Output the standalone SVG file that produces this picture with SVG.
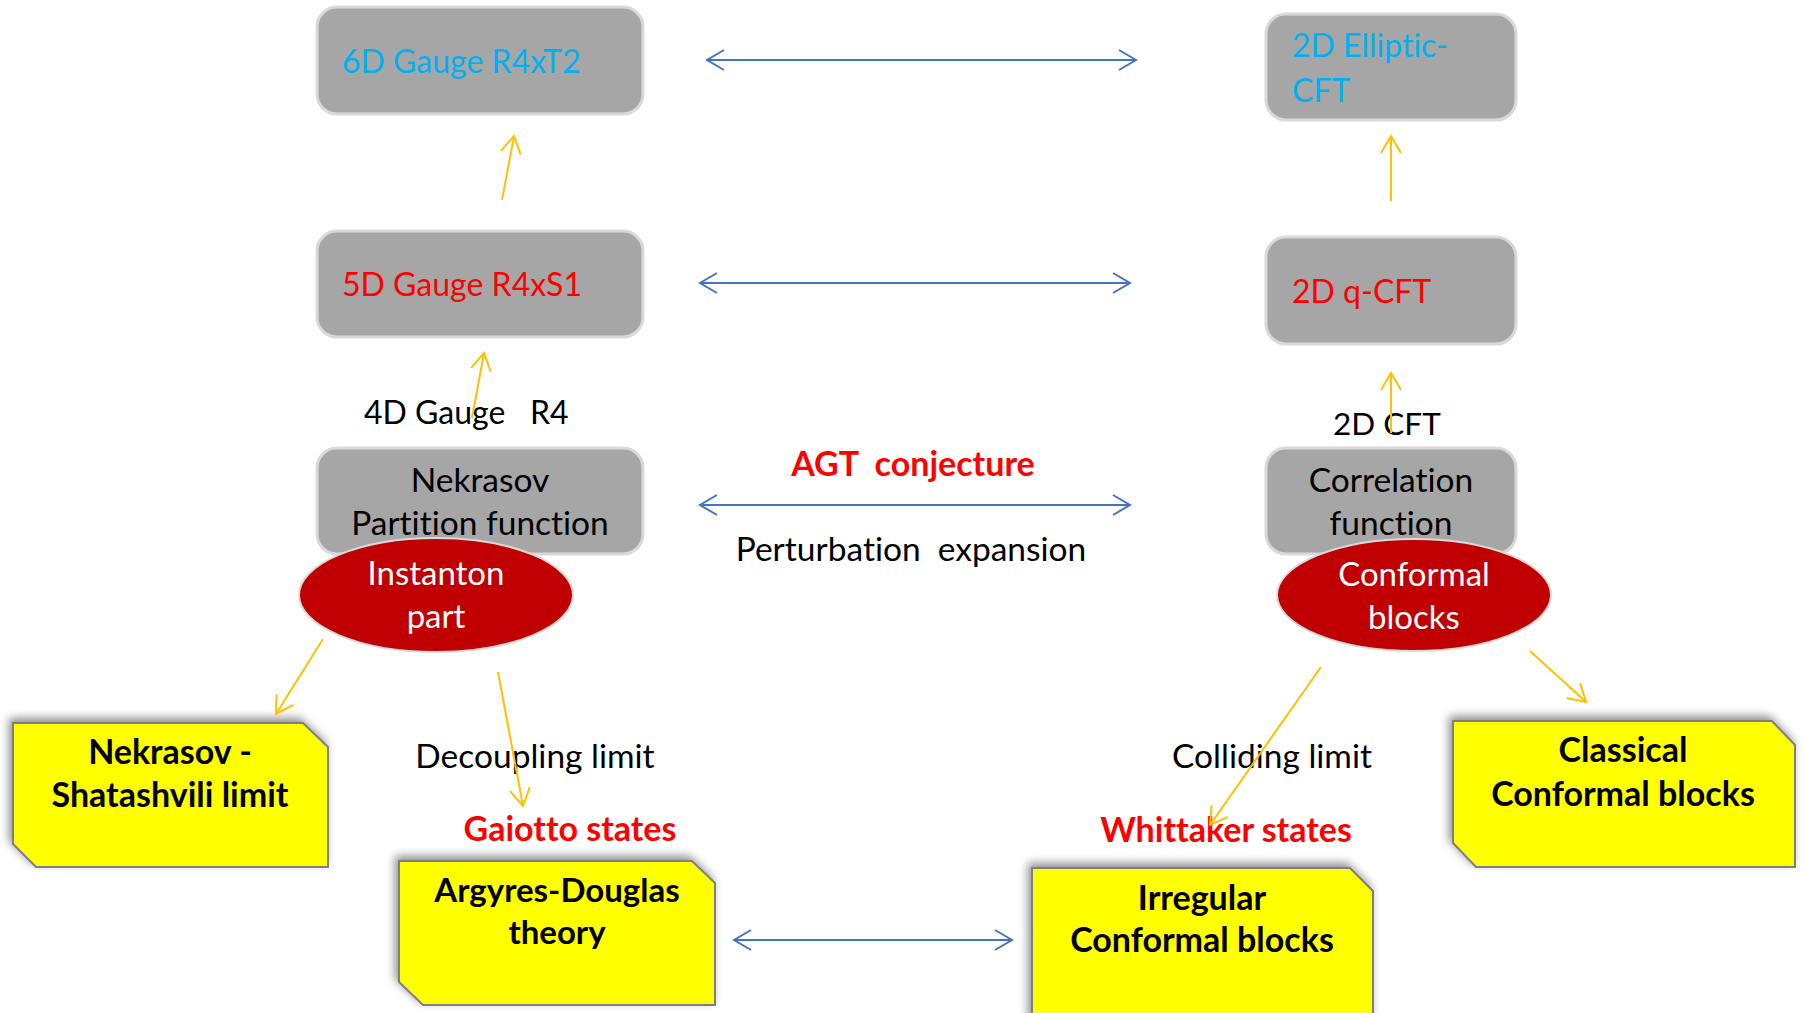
<svg xmlns="http://www.w3.org/2000/svg" width="1804" height="1013" viewBox="0 0 1804 1013">
<style>
.gbox{fill:#a6a6a6;stroke:#d9d9d9;stroke-width:3}
.ybox{fill:#ffff00;stroke:#7f7f7f;stroke-width:2}
.ell{fill:#c00000;stroke:#d9d9d9;stroke-width:2}
text{font-family:Lato,"Open Sans","Liberation Sans",sans-serif;white-space:pre;font-variant-ligatures:none}
.t{font-size:33.5px;fill:#000}
.tb{font-size:34px;fill:#000;font-weight:bold}
.blue{font-size:32px;fill:#00b0f0}
.red{font-size:32px;fill:#ff0000}
.redb{font-size:34px;fill:#ff0000;font-weight:bold}
.white{font-size:33px;fill:#fff}
.barr{stroke:#4472c4;stroke-width:2;fill:none}
.yarr{stroke:#ffc000;stroke-width:2;fill:none}
</style>
<defs>
<marker id="mb" viewBox="-20 -12 22 24" refX="0" refY="0" markerWidth="22" markerHeight="24" markerUnits="userSpaceOnUse" orient="auto-start-reverse">
<path d="M-17,-10 L0,0 L-17,10" fill="none" stroke="#4472c4" stroke-width="2"/>
</marker>
<marker id="my" viewBox="-20 -12 22 24" refX="0" refY="0" markerWidth="22" markerHeight="24" markerUnits="userSpaceOnUse" orient="auto">
<path d="M-17,-10 L0,0 L-17,10" fill="none" stroke="#ffc000" stroke-width="2"/>
</marker>
<filter id="sh" x="-10%" y="-10%" width="120%" height="120%">
<feGaussianBlur in="SourceAlpha" stdDeviation="5"/>
<feOffset dx="-3" dy="-4" result="b"/>
<feComponentTransfer><feFuncA type="linear" slope="0.45"/></feComponentTransfer>
<feMerge><feMergeNode/><feMergeNode in="SourceGraphic"/></feMerge>
</filter>
</defs>

<g id="n6d">
<rect class="gbox" x="317" y="7" width="326" height="107" rx="20"/>
<text class="blue" x="342" y="73">6D Gauge R4xT2</text>
</g>
<g id="nElliptic">
<rect class="gbox" x="1266" y="14" width="250" height="106" rx="20"/>
<text class="blue" x="1292" y="57">2D Elliptic-</text>
<text class="blue" x="1292" y="102">CFT</text>
</g>
<g id="n5d">
<rect class="gbox" x="317" y="231" width="326" height="106" rx="20"/>
<text class="red" x="342" y="296">5D Gauge R4xS1</text>
</g>
<g id="nqcft">
<rect class="gbox" x="1266" y="237" width="250" height="107" rx="20"/>
<text class="red" x="1292" y="303">2D q-CFT</text>
</g>
<g id="n4dlabel">
<text class="t" x="364" y="424" style="font-size:32px">4D Gauge   R4</text>
</g>
<g id="n2dcftlabel">
<text class="t" x="1333" y="435" style="font-size:31.5px">2D CFT</text>
</g>
<g id="nNekrasov">
<rect class="gbox" x="317" y="448" width="326" height="106" rx="20"/>
<text class="t" x="480" y="492" text-anchor="middle">Nekrasov</text>
<text class="t" x="480" y="535" text-anchor="middle">Partition function</text>
</g>
<g id="nCorrelation">
<rect class="gbox" x="1266" y="448" width="250" height="106" rx="20"/>
<text class="t" x="1391" y="492" text-anchor="middle">Correlation</text>
<text class="t" x="1391" y="535" text-anchor="middle">function</text>
</g>
<g id="nInstanton">
<ellipse class="ell" cx="436" cy="595" rx="137" ry="57"/>
<text class="white" x="436" y="585" text-anchor="middle">Instanton</text>
<text class="white" x="436" y="628" text-anchor="middle">part</text>
</g>
<g id="nConformal">
<ellipse class="ell" cx="1414" cy="595" rx="137" ry="56"/>
<text class="white" x="1414" y="586" text-anchor="middle">Conformal</text>
<text class="white" x="1414" y="629" text-anchor="middle">blocks</text>
</g>
<g id="nAGT">
<text class="redb" x="913" y="476" text-anchor="middle">AGT  conjecture</text>
<text class="t" x="911" y="561" text-anchor="middle">Perturbation  expansion</text>
</g>
<g id="nNS">
<path class="ybox" filter="url(#sh)" d="M13,723 L303,723 L328,747 L328,867 L36,867 L13,844 Z"/>
<text class="tb" x="170" y="764" text-anchor="middle">Nekrasov -</text>
<text class="tb" x="170" y="807" text-anchor="middle">Shatashvili limit</text>
</g>
<g id="nDecoupling">
<text class="t" x="535" y="768" text-anchor="middle">Decoupling limit</text>
<text class="redb" x="570" y="841" text-anchor="middle">Gaiotto states</text>
</g>
<g id="nColliding">
<text class="t" x="1272" y="768" text-anchor="middle">Colliding limit</text>
<text class="redb" x="1226" y="842" text-anchor="middle">Whittaker states</text>
</g>
<g id="nAD">
<path class="ybox" filter="url(#sh)" d="M399,861 L692,861 L715,883 L715,1005 L423,1005 L399,982 Z"/>
<text class="tb" x="557" y="902" text-anchor="middle" style="font-size:33px">Argyres-Douglas</text>
<text class="tb" x="557" y="944" text-anchor="middle" style="font-size:33px">theory</text>
</g>
<g id="nIrregular">
<path class="ybox" filter="url(#sh)" d="M1032,868 L1350,868 L1373,891 L1373,1030 L1032,1030 Z"/>
<text class="tb" x="1202" y="910" text-anchor="middle">Irregular</text>
<text class="tb" x="1202" y="952" text-anchor="middle">Conformal blocks</text>
</g>
<g id="nClassical">
<path class="ybox" filter="url(#sh)" d="M1453,721 L1772,721 L1795,745 L1795,867 L1476,867 L1453,843 Z"/>
<text class="tb" x="1623" y="762" text-anchor="middle">Classical</text>
<text class="tb" x="1623" y="806" text-anchor="middle">Conformal blocks</text>
</g>

<g id="connectors">
<line class="barr" x1="707" y1="60" x2="1136" y2="60" marker-start="url(#mb)" marker-end="url(#mb)"/>
<line class="barr" x1="700" y1="283" x2="1130" y2="283" marker-start="url(#mb)" marker-end="url(#mb)"/>
<line class="barr" x1="700" y1="505" x2="1130" y2="505" marker-start="url(#mb)" marker-end="url(#mb)"/>
<line class="barr" x1="734" y1="940" x2="1012" y2="940" marker-start="url(#mb)" marker-end="url(#mb)"/>
<line class="yarr" x1="502" y1="200" x2="514" y2="136" marker-end="url(#my)"/>
<line class="yarr" x1="1391" y1="201" x2="1391" y2="136" marker-end="url(#my)"/>
<line class="yarr" x1="472" y1="418" x2="484" y2="353" marker-end="url(#my)"/>
<line class="yarr" x1="1391" y1="433" x2="1391" y2="373" marker-end="url(#my)"/>
<line class="yarr" x1="323" y1="639" x2="276" y2="714" marker-end="url(#my)"/>
<line class="yarr" x1="498" y1="672" x2="523" y2="806" marker-end="url(#my)"/>
<line class="yarr" x1="1321" y1="667" x2="1210" y2="825" marker-end="url(#my)"/>
<line class="yarr" x1="1530" y1="651" x2="1586" y2="702" marker-end="url(#my)"/>
</g>
</svg>
